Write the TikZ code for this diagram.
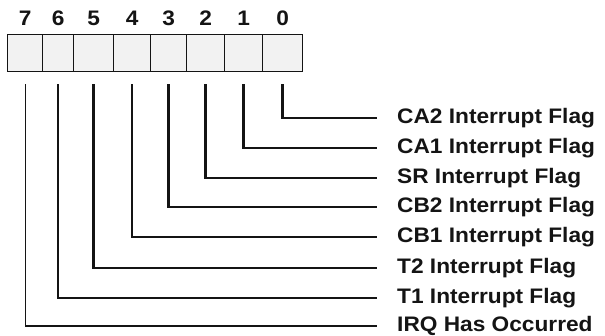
\documentclass[tikz,border=0pt]{standalone}
\usepackage{fontspec}
\setmainfont{Liberation Sans}[FakeStretch=1.08]
\usetikzlibrary{positioning}
\definecolor{cellgray}{RGB}{242,242,242}
\definecolor{inkdark}{RGB}{20,20,20}

\begin{document}
\begin{tikzpicture}[x=1pt,y=-1pt,
          cell/.style={draw=inkdark,fill=cellgray,line width=1.3pt,
            minimum height=37pt,inner sep=0pt},
          bitnum/.style={font=\fontsize{21}{21}\selectfont\bfseries,
            text=inkdark,inner sep=0pt},
          flag/.style={font=\fontsize{21}{21}\selectfont\bfseries,
            text=inkdark,anchor=west,inner xsep=20pt,inner ysep=0pt,
            text height=11pt,text depth=0pt},
          flagline/.style={draw=inkdark,line width=2.6pt,line join=miter},
          irqline/.style={draw=inkdark,line width=1.3pt}]

        \useasboundingbox (0,0) rectangle (605,336);

        % register cells, bit 7 on the left
        \foreach \b/\l/\r in {7/7/42,6/42/73,5/73/113,4/113/150,
                              3/150/186,2/186/224,1/224/262,0/262/302}{
          \node[cell,minimum width={\r-\l},anchor=north west] (b\b) at (\l,34) {};
          \node[bitnum,above=8pt of b\b] (n\b) {\b};
        }

        % flag labels
        \node[flag] (f0) at (377,118) {CA2 Interrupt Flag};
        \node[flag] (f1) at (377,148) {CA1 Interrupt Flag};
        \node[flag] (f2) at (377,178) {SR Interrupt Flag};
        \node[flag] (f3) at (377,207) {CB2 Interrupt Flag};
        \node[flag] (f4) at (377,237) {CB1 Interrupt Flag};
        \node[flag] (f5) at (377,268) {T2 Interrupt Flag};
        \node[flag] (f6) at (377,298) {T1 Interrupt Flag};
        \node[flag] (f7) at (377,326) {IRQ Has Occurred};

        % connectors
        \foreach \b in {0,...,6}{
          \draw[flagline] ([yshift=-12pt]b\b.south) |- (f\b.west);
        }
        \draw[irqline] ([yshift=-12pt]b7.south) |- (f7.west);
      \end{tikzpicture}
\end{document}
